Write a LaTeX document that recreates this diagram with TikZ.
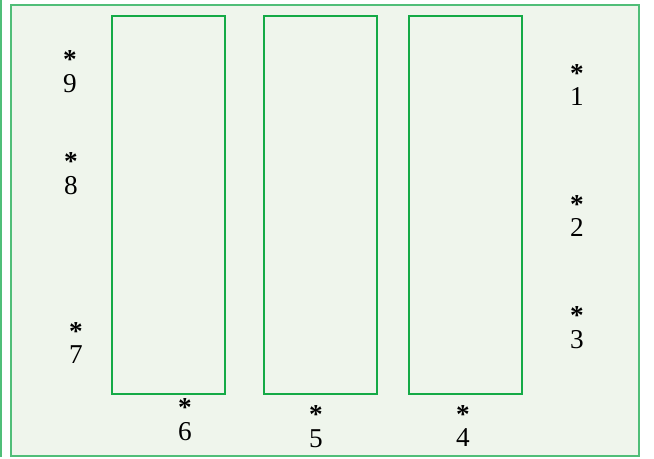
\documentclass[tikz,border=0pt]{standalone}
\usepackage{fontspec}
\setmainfont{Liberation Serif}
\usetikzlibrary{positioning}
\definecolor{edgegreen}{RGB}{80,190,120}
\definecolor{slabgreen}{RGB}{20,170,70}
\definecolor{panelfill}{RGB}{239,245,236}
\tikzset{
  panel/.style  = {draw=edgegreen, line width=1.2pt, fill=panelfill},
  slab/.style   = {draw=slabgreen, line width=0.7pt},
  marker/.style = {align=center, inner sep=0pt, font=\fontsize{15.5}{13.5}\selectfont},
}

\begin{document}
\begin{tikzpicture}[x=0.02cm, y=-0.02cm]
  \useasboundingbox (0,0) rectangle (654,458);
  % frame
  \draw[edgegreen, line width=1.2pt] (1,0) -- (1,457);
  \draw[panel] (11,5) rectangle (639,456);
  % slabs
  \foreach \i/\xa/\xb in {a/112/225, b/264/377, c/409/522} {
    \node[slab, minimum width=113*0.02cm, minimum height=378*0.02cm, inner sep=0pt]
      (slab\i) at ({(\xa+\xb)/2}, 205) {};
  }
  % numbered marks
  \foreach \n/\x/\y in {1/577/85, 2/577/216, 3/577/328, 4/463/426, 5/316/427,
                        6/185/420, 7/76/343, 8/71/174, 9/70/72} {
    \node[marker] (m\n) at (\x,\y) {\textbf{*}\\\n};
  }
\end{tikzpicture}
\end{document}
